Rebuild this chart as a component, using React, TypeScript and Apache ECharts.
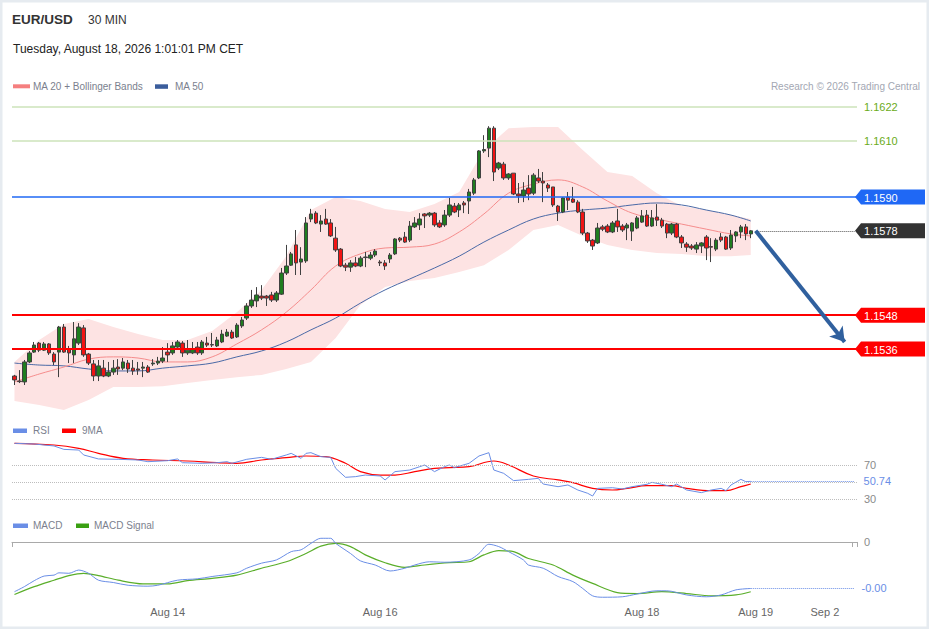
import React, { useEffect, useRef } from "react";
import * as echarts from "echarts";

const FONT = '"Liberation Sans", Arial, Helvetica, sans-serif';

// ---- X axis categories (30-min slots, plus empty future slots) ----
const N_CATS = 171;
const xTickLabels: [number, string][] = [
  [31, "Aug 14"],
  [74, "Aug 16"],
  [127, "Aug 18"],
  [150, "Aug 19"],
  [164, "Sep 2"],
];
const categories: string[] = Array.from({ length: N_CATS }, (_, i) => {
  const f = xTickLabels.find((l) => l[0] === i);
  return f ? f[1] : "";
});

// ---- Candles: [open, close, low, high] ----
const candles: number[][] = [
  [1.15264, 1.1525, 1.15232, 1.15268], [1.15246, 1.15244, 1.15239, 1.15285], [1.15243, 1.15314, 1.15232, 1.15321],
  [1.15314, 1.15346, 1.1531, 1.15353], [1.15349, 1.15374, 1.15346, 1.15385], [1.15381, 1.15356, 1.15349, 1.15385],
  [1.15356, 1.15378, 1.15353, 1.15385], [1.15378, 1.15346, 1.15339, 1.15381], [1.15342, 1.15314, 1.15303, 1.15349],
  [1.15349, 1.15438, 1.1526, 1.15442], [1.15438, 1.15349, 1.15346, 1.15449], [1.1536, 1.15346, 1.1531, 1.15371],
  [1.15339, 1.15396, 1.1531, 1.15456], [1.15381, 1.15438, 1.15374, 1.15452], [1.15435, 1.15339, 1.15332, 1.15445],
  [1.15342, 1.1531, 1.15303, 1.15346], [1.15307, 1.15264, 1.15246, 1.15321], [1.15264, 1.153, 1.15246, 1.15321],
  [1.15292, 1.15264, 1.1526, 1.15321], [1.15264, 1.15278, 1.1526, 1.15314], [1.15278, 1.15292, 1.15268, 1.15321],
  [1.15296, 1.15289, 1.15268, 1.15324], [1.15292, 1.15314, 1.15285, 1.15328], [1.1531, 1.15289, 1.15275, 1.15321],
  [1.15292, 1.15282, 1.15268, 1.15321], [1.15289, 1.15285, 1.15268, 1.15314], [1.15292, 1.15296, 1.1526, 1.15314],
  [1.15296, 1.15278, 1.15275, 1.15303], [1.15307, 1.1531, 1.153, 1.15324], [1.1531, 1.15317, 1.15303, 1.15332],
  [1.15317, 1.15328, 1.1531, 1.15367], [1.15349, 1.15339, 1.15314, 1.15381], [1.15346, 1.15371, 1.15339, 1.15385],
  [1.15367, 1.15385, 1.15364, 1.15392], [1.15381, 1.15346, 1.15332, 1.15388], [1.15346, 1.15356, 1.15339, 1.15392],
  [1.15346, 1.1536, 1.15342, 1.15385], [1.15367, 1.15346, 1.15339, 1.15385], [1.15346, 1.15385, 1.15339, 1.15392],
  [1.15381, 1.15374, 1.15367, 1.15403], [1.15376, 1.15374, 1.15367, 1.15417], [1.15371, 1.15392, 1.15367, 1.15403],
  [1.15385, 1.15413, 1.15381, 1.15428], [1.15406, 1.1542, 1.15403, 1.15431], [1.1542, 1.15399, 1.15396, 1.15428],
  [1.15403, 1.15445, 1.15399, 1.15452], [1.15442, 1.15463, 1.15435, 1.15474], [1.1547, 1.15513, 1.15463, 1.15523],
  [1.15513, 1.15534, 1.15506, 1.1557], [1.15531, 1.15552, 1.15509, 1.1558], [1.15548, 1.15541, 1.15534, 1.15587],
  [1.15548, 1.15541, 1.15513, 1.15552], [1.15552, 1.15534, 1.15527, 1.15563], [1.15534, 1.15559, 1.15527, 1.15566],
  [1.15555, 1.1563, 1.15552, 1.15648], [1.1563, 1.15655, 1.15623, 1.1573], [1.15658, 1.15698, 1.15655, 1.15705],
  [1.1573, 1.15666, 1.15623, 1.15783], [1.15669, 1.1568, 1.15623, 1.15722], [1.15673, 1.15808, 1.15666, 1.15829],
  [1.15822, 1.1584, 1.15811, 1.15858], [1.15843, 1.15808, 1.15804, 1.1585], [1.15804, 1.15815, 1.15776, 1.15836],
  [1.15822, 1.15804, 1.15801, 1.15858], [1.15808, 1.15762, 1.15758, 1.15822], [1.15754, 1.15712, 1.15705, 1.15794],
  [1.15715, 1.15655, 1.15651, 1.15719], [1.15658, 1.15651, 1.15637, 1.15666], [1.15651, 1.15666, 1.15634, 1.15676],
  [1.15666, 1.15655, 1.15651, 1.15687], [1.15655, 1.15683, 1.15651, 1.1569], [1.15685, 1.15687, 1.15651, 1.15705],
  [1.15683, 1.15694, 1.15676, 1.15705], [1.15694, 1.15708, 1.15687, 1.15715], [1.15669, 1.15666, 1.15655, 1.15676],
  [1.15666, 1.15655, 1.15641, 1.15676], [1.1568, 1.15694, 1.15666, 1.15701], [1.15698, 1.15751, 1.15694, 1.15754],
  [1.15754, 1.15747, 1.1574, 1.15758], [1.15758, 1.1574, 1.15737, 1.15776], [1.15747, 1.15797, 1.1574, 1.15815],
  [1.15794, 1.15808, 1.1579, 1.15829], [1.15801, 1.15822, 1.15783, 1.15843], [1.1584, 1.15833, 1.1579, 1.15843],
  [1.15836, 1.15843, 1.15829, 1.15847], [1.15843, 1.15801, 1.15794, 1.15847], [1.15808, 1.15794, 1.1579, 1.15818],
  [1.15801, 1.15836, 1.15794, 1.15854], [1.15836, 1.15872, 1.15829, 1.15897], [1.15868, 1.15847, 1.15843, 1.15879],
  [1.15854, 1.15872, 1.15829, 1.15879], [1.15879, 1.15872, 1.15843, 1.15886], [1.15886, 1.15918, 1.1584, 1.15929],
  [1.15914, 1.15961, 1.15907, 1.15968], [1.15968, 1.16064, 1.15964, 1.16067], [1.16064, 1.16069, 1.16057, 1.1612],
  [1.16074, 1.16145, 1.16042, 1.16152], [1.16145, 1.15989, 1.15957, 1.16152], [1.16003, 1.16021, 1.15996, 1.16025],
  [1.16017, 1.15968, 1.15961, 1.16025], [1.15968, 1.15982, 1.15961, 1.15985], [1.15985, 1.15911, 1.15907, 1.15985],
  [1.15911, 1.15904, 1.15879, 1.1595], [1.15904, 1.15925, 1.15882, 1.15953], [1.15932, 1.15911, 1.15889, 1.15978],
  [1.15914, 1.15978, 1.15907, 1.15985], [1.15968, 1.15957, 1.1595, 1.16], [1.15957, 1.1595, 1.15882, 1.15989],
  [1.15943, 1.15932, 1.15918, 1.1595], [1.15936, 1.15872, 1.15865, 1.15936], [1.15868, 1.15847, 1.15815, 1.15872],
  [1.15847, 1.15897, 1.15843, 1.159], [1.159, 1.15889, 1.15854, 1.15918], [1.15893, 1.15882, 1.15879, 1.15936],
  [1.15882, 1.15847, 1.15843, 1.15889], [1.15847, 1.15772, 1.15765, 1.15858], [1.15772, 1.15744, 1.15737, 1.15776],
  [1.15747, 1.15726, 1.15712, 1.15751], [1.15737, 1.1579, 1.15733, 1.15808], [1.15794, 1.15786, 1.15779, 1.15801],
  [1.15797, 1.15776, 1.15772, 1.15804], [1.15776, 1.15808, 1.15772, 1.15815], [1.15815, 1.15794, 1.15776, 1.15858],
  [1.15797, 1.15783, 1.15776, 1.15804], [1.1579, 1.15801, 1.15747, 1.15808], [1.15779, 1.15808, 1.15744, 1.15811],
  [1.1579, 1.15826, 1.15786, 1.15833], [1.15811, 1.15833, 1.15808, 1.15854], [1.15836, 1.15797, 1.15794, 1.15854],
  [1.15797, 1.15826, 1.15794, 1.15854], [1.15829, 1.15818, 1.15797, 1.15875], [1.15818, 1.15797, 1.1579, 1.15826],
  [1.15804, 1.15772, 1.15754, 1.15808], [1.15772, 1.15804, 1.15765, 1.15808], [1.15804, 1.15758, 1.15754, 1.15808],
  [1.15758, 1.15737, 1.15719, 1.15765], [1.15733, 1.15722, 1.15705, 1.1574], [1.15726, 1.15719, 1.15712, 1.15733],
  [1.15715, 1.1573, 1.15701, 1.1574], [1.15726, 1.15737, 1.15701, 1.1574], [1.15758, 1.15719, 1.15676, 1.15765],
  [1.15724, 1.15722, 1.15669, 1.15754], [1.15715, 1.15747, 1.15708, 1.15754], [1.15758, 1.15747, 1.1574, 1.15772],
  [1.15758, 1.15715, 1.15712, 1.15762], [1.15719, 1.15765, 1.15712, 1.15783], [1.15762, 1.15776, 1.1574, 1.15779],
  [1.15776, 1.15794, 1.15754, 1.15801], [1.15794, 1.15769, 1.15747, 1.15804], [1.15769, 1.1578, 1.15754, 1.15783],
];

// ---- Overlays (read at sampled candle indices) ----
const bandIdx = [0, 5, 10, 15, 20, 25, 30, 35, 40, 45, 50, 55, 60, 65, 70, 75, 80, 85, 90, 95, 100, 105, 110, 115, 120, 125, 130, 135, 140, 145, 149];
const bandUpper = [1.15314, 1.15392, 1.15449, 1.15467, 1.15438, 1.15413, 1.15392, 1.15392, 1.15424, 1.15491, 1.1557, 1.1569, 1.15854, 1.159, 1.15886, 1.15858, 1.15847, 1.15875, 1.15918, 1.16067, 1.16145, 1.16149, 1.16149, 1.16067, 1.15989, 1.15975, 1.15914, 1.15868, 1.15854, 1.15836, 1.15822];
const bandLower = [1.15175, 1.15161, 1.15143, 1.15179, 1.15225, 1.15225, 1.15228, 1.15239, 1.1525, 1.1526, 1.15268, 1.15289, 1.15314, 1.15399, 1.15516, 1.1558, 1.15602, 1.15612, 1.15634, 1.15658, 1.15712, 1.15783, 1.15801, 1.15762, 1.1573, 1.15712, 1.15701, 1.15698, 1.1569, 1.1569, 1.15694];
const ma20 = [1.15243, 1.15271, 1.15296, 1.15324, 1.15332, 1.15328, 1.15314, 1.15314, 1.15332, 1.15378, 1.15428, 1.15491, 1.1557, 1.15655, 1.15698, 1.15719, 1.15722, 1.15733, 1.15776, 1.1584, 1.15914, 1.15946, 1.15961, 1.15936, 1.15886, 1.15843, 1.15822, 1.15804, 1.15786, 1.15769, 1.15762];
const ma50 = [1.1531, 1.15303, 1.153, 1.15289, 1.15282, 1.15282, 1.15292, 1.153, 1.1531, 1.15332, 1.15353, 1.15385, 1.15428, 1.1547, 1.15523, 1.1557, 1.15609, 1.15648, 1.1569, 1.1574, 1.15783, 1.15822, 1.15843, 1.15854, 1.15861, 1.15872, 1.15879, 1.15872, 1.15854, 1.15836, 1.15815];

// ---- Price levels ----
const resistanceLevels = [1.1622, 1.161];
const pivotLevel = 1.159;
const lastPrice = 1.1578;
const supportLevels = [1.1548, 1.1536];
const arrowEnd: [number, number] = [168, 1.15385];

// ---- RSI ----
const rsiIdx = [0, 4, 8, 10, 13, 14, 17, 21, 25, 27, 31, 33, 34, 38, 41, 43, 44, 47, 50, 52, 55, 56, 58, 59, 60, 62, 64, 65, 67, 69, 71, 74, 75, 77, 80, 82, 83, 85, 87, 88, 89, 92, 94, 96, 97, 99, 101, 104, 106, 107, 110, 112, 114, 116, 117, 118, 121, 123, 125, 128, 129, 131, 133, 134, 136, 139, 141, 143, 144, 145, 147, 148, 149];
const rsiVal = [95.5, 94.7, 92.4, 88.4, 87.6, 81.8, 77.1, 76.7, 75.9, 73.9, 75.1, 77.1, 72.7, 72.0, 72.7, 73.9, 72.0, 76.7, 79.0, 76.7, 81.8, 83.7, 77.8, 83.7, 84.5, 79.8, 79.0, 66.1, 55.5, 56.3, 58.2, 57.1, 52.4, 62.2, 64.1, 68.0, 70.0, 62.2, 68.0, 70.0, 66.9, 72.0, 80.6, 84.5, 64.1, 60.2, 51.6, 53.1, 54.3, 47.6, 44.5, 46.5, 40.6, 36.7, 33.5, 42.5, 43.3, 41.8, 44.5, 47.3, 49.6, 47.3, 44.5, 47.6, 40.6, 37.5, 40.6, 42.5, 39.8, 46.5, 53.1, 50.4, 50.74];
const rsiMaIdx = [0, 8, 13, 17, 22, 28, 35, 41, 45, 50, 55, 59, 63, 67, 70, 74, 77, 81, 85, 88, 92, 97, 100, 105, 110, 113, 117, 121, 124, 128, 133, 136, 141, 144, 147, 149];
const rsiMaVal = [95.5, 93.5, 89.6, 83.7, 77.8, 75.9, 74.7, 72.7, 72.0, 75.9, 78.6, 80.6, 79.8, 72.0, 62.2, 58.2, 58.2, 62.2, 66.1, 66.9, 68.0, 74.7, 70.0, 57.1, 52.4, 49.2, 42.5, 40.6, 42.5, 45.7, 45.7, 42.5, 39.8, 39.8, 44.5, 47.6];
const rsiLevels = [70, 50, 30];

// ---- MACD ----
const macdIdx = [0, 2, 4, 6, 8, 9, 11, 13, 15, 17, 20, 23, 27, 29, 33, 37, 40, 45, 47, 50, 53, 56, 58, 60, 62, 64, 65, 68, 70, 73, 76, 79, 81, 84, 87, 92, 94, 96, 98, 100, 103, 104, 107, 110, 113, 115, 117, 119, 123, 126, 130, 132, 136, 140, 143, 146, 149];
const macdVal = [-0.00108, -0.00097, -0.00084, -0.00074, -0.00072, -0.00067, -0.00068, -0.00061, -0.00068, -0.00083, -0.00088, -0.00094, -0.00096, -0.00094, -0.00083, -0.0008, -0.00075, -0.00067, -0.00057, -0.00046, -0.00039, -0.00021, -0.00017, -0.00003, 0.00008, 0.00008, -0.00003, -0.00025, -0.00041, -0.0005, -0.00063, -0.00057, -0.0005, -0.00043, -0.00044, -0.00039, -0.00025, -0.00005, -0.0001, -0.00021, -0.00039, -0.0005, -0.00057, -0.00075, -0.00086, -0.00101, -0.00117, -0.0012, -0.00119, -0.00113, -0.00106, -0.00106, -0.00115, -0.00119, -0.00115, -0.00104, -0.00101];
const sigIdx = [0, 4, 8, 11, 14, 17, 21, 26, 31, 35, 40, 45, 50, 55, 59, 62, 65, 68, 71, 75, 79, 83, 88, 92, 95, 98, 101, 104, 109, 113, 117, 122, 126, 131, 136, 141, 146, 149];
const sigVal = [-0.00114, -0.00097, -0.00083, -0.00073, -0.00068, -0.00073, -0.00083, -0.00091, -0.00091, -0.00084, -0.00079, -0.00072, -0.00057, -0.00043, -0.00025, -0.00009, -0.00003, -0.0001, -0.00028, -0.00045, -0.00055, -0.0005, -0.00045, -0.00043, -0.00028, -0.00019, -0.00021, -0.00036, -0.0005, -0.00072, -0.0009, -0.0011, -0.00112, -0.00108, -0.00112, -0.00117, -0.00115, -0.00108];

const C_RSI = "#6a8ee6";
const C_RED = "#ff0000";
const C_BLUE_LVL = "#1f68f5";
const C_GREEN_LVL = "#6aab19";
const LAST = candles.length - 1;
const END = N_CATS - 1;

const pairs = (idx: number[], val: number[]) => idx.map((x, k) => [x, val[k]]);

function buildOption(): any {
  const lbl = { fontFamily: FONT, fontSize: 11 };
  return {
    animation: false,
    backgroundColor: "#ffffff",
    grid: [
      { left: 12, right: 72, top: 98.6, height: 312.3, containLabel: false },
      { left: 12, right: 72, top: 439.5, height: 68, containLabel: false },
      { left: 12, right: 72, top: 530, height: 70, containLabel: false },
    ],
    xAxis: [0, 1, 2].map((g) => ({
      type: "category",
      gridIndex: g,
      data: categories,
      boundaryGap: true,
      show: g === 2,
      axisLine: { show: g === 2, lineStyle: { color: "#a9a9a9", width: 1 } },
      axisTick: {
        show: g === 2,
        interval: (i: number) => i === 0 || i === END,
        length: 5,
        lineStyle: { color: "#a9a9a9" },
      },
      axisLabel: { show: g === 2, interval: 0, color: "#666666", fontSize: 11, fontFamily: FONT, margin: 6 },
      splitLine: { show: false },
    })),
    yAxis: [
      { type: "value", gridIndex: 0, min: 1.1514, max: 1.1625, show: false },
      { type: "value", gridIndex: 1, min: 20, max: 100, show: false },
      { type: "value", gridIndex: 2, min: -0.00126, max: 0.00026, show: false },
    ],
    series: [
      {
        type: "custom",
        name: "band",
        xAxisIndex: 0,
        yAxisIndex: 0,
        z: 1,
        silent: true,
        data: [[0, bandLower[0]]],
        renderItem: (_p: any, api: any) => {
          const pts: number[][] = [];
          bandIdx.forEach((ix, k) => pts.push(api.coord([ix, bandUpper[k]])));
          for (let k = bandIdx.length - 1; k >= 0; k--) pts.push(api.coord([bandIdx[k], bandLower[k]]));
          return { type: "polygon", shape: { points: pts }, style: { fill: "#fde3e3" } };
        },
      },
      {
        type: "line",
        name: "MA 50",
        xAxisIndex: 0,
        yAxisIndex: 0,
        z: 2,
        silent: true,
        data: pairs(bandIdx, ma50),
        smooth: 0.4,
        symbol: "none",
        lineStyle: { color: "#4a69a6", width: 1 },
        markLine: {
          silent: true,
          symbol: "none",
          precision: 6,
          label: { show: false },
          data: [
            ...resistanceLevels.map((v) => ({
              yAxis: v,
              lineStyle: { color: "#cde3ba", width: 1.5, type: "solid" },
              label: { show: true, position: "end", distance: 7, formatter: v.toFixed(4), color: C_GREEN_LVL, ...lbl },
            })),
            {
              yAxis: pivotLevel,
              lineStyle: { color: C_BLUE_LVL, width: 1.5, type: "solid", opacity: 1 },
              itemStyle: { color: C_BLUE_LVL },
            },
            ...supportLevels.map((v) => ({ yAxis: v, lineStyle: { color: C_RED, width: 2, type: "solid" } })),
          ],
        },
      },
      {
        type: "line",
        name: "MA 20",
        xAxisIndex: 0,
        yAxisIndex: 0,
        z: 2,
        silent: true,
        data: pairs(bandIdx, ma20),
        smooth: 0.4,
        symbol: "none",
        lineStyle: { color: "#f58c8c", width: 1 },
      },
      {
        type: "candlestick",
        name: "EUR/USD",
        xAxisIndex: 0,
        yAxisIndex: 0,
        z: 3,
        silent: true,
        barWidth: 4,
        data: candles,
        itemStyle: {
          color: "#1f7d1f",
          color0: "#f01414",
          borderColor: "#404040",
          borderColor0: "#404040",
          borderWidth: 1,
        },
        markLine: {
          silent: true,
          symbol: "none",
          precision: 6,
          label: { show: false },
          data: [
            [
              { coord: [LAST + 1, lastPrice], symbol: "none" },
              { coord: [END, lastPrice], symbol: "none", lineStyle: { color: "#555555", type: "dotted", width: 1 } },
            ],
            [
              { coord: [LAST + 1, lastPrice], symbol: "none" },
              {
                coord: arrowEnd,
                symbol: "arrow",
                symbolSize: [13, 14],
                lineStyle: { color: "#30609e", width: 4, type: "solid" },
                itemStyle: { color: "#30609e" },
              },
            ],
          ],
        },
      },
      {
        type: "line",
        name: "RSI",
        xAxisIndex: 1,
        yAxisIndex: 1,
        z: 3,
        silent: true,
        data: pairs(rsiIdx, rsiVal),
        symbol: "none",
        lineStyle: { color: C_RSI, width: 1 },
        markLine: {
          silent: true,
          symbol: "none",
          precision: 6,
          label: { show: false },
          data: [
            ...rsiLevels.map((v) => ({
              yAxis: v,
              lineStyle: { color: "#bdbdbd", type: "dotted", width: 1 },
              label: { show: v !== 50, position: "end", distance: 7, formatter: String(v), color: "#8a8a8a", ...lbl },
            })),
            [
              { coord: [LAST, rsiVal[rsiVal.length - 1]] },
              {
                coord: [END, rsiVal[rsiVal.length - 1]],
                lineStyle: { color: C_RSI, type: "dotted", width: 1 },
                label: { show: true, position: "end", distance: 9, formatter: rsiVal[rsiVal.length - 1].toFixed(2), color: C_RSI, ...lbl },
              },
            ],
          ],
        },
      },
      {
        type: "line",
        name: "9MA",
        xAxisIndex: 1,
        yAxisIndex: 1,
        z: 2,
        silent: true,
        data: pairs(rsiMaIdx, rsiMaVal),
        smooth: 0.4,
        symbol: "none",
        lineStyle: { color: C_RED, width: 1.2 },
      },
      {
        type: "line",
        name: "MACD",
        xAxisIndex: 2,
        yAxisIndex: 2,
        z: 3,
        silent: true,
        data: pairs(macdIdx, macdVal),
        smooth: 0.3,
        symbol: "none",
        lineStyle: { color: C_RSI, width: 1 },
        markLine: {
          silent: true,
          symbol: "none",
          precision: 8,
          label: { show: false },
          data: [
            {
              yAxis: 0,
              lineStyle: { color: "rgba(0,0,0,0)", width: 0 },
              label: { show: true, position: "end", distance: 7, formatter: "0", color: "#8a8a8a", ...lbl },
            },
            [
              { coord: [LAST, macdVal[macdVal.length - 1]] },
              {
                coord: [END, macdVal[macdVal.length - 1]],
                lineStyle: { color: C_RSI, type: "dotted", width: 1 },
                label: { show: true, position: "end", distance: 7, formatter: macdVal[macdVal.length - 1].toFixed(2), color: C_RSI, ...lbl },
              },
            ],
          ],
        },
      },
      {
        type: "line",
        name: "MACD Signal",
        xAxisIndex: 2,
        yAxisIndex: 2,
        z: 2,
        silent: true,
        data: pairs(sigIdx, sigVal),
        smooth: 0.3,
        symbol: "none",
        lineStyle: { color: "#5aae2a", width: 1.2 },
      },
    ],
  };
}

function txt(text: string, x: number, y: number, size: number, fill: string, opts: any = {}) {
  const align = opts.align || "left";
  return {
    type: "text",
    silent: true,
    z: 50,
    style: {
      text,
      x,
      y,
      fill,
      font: `${opts.weight || "normal"} ${size}px ${FONT}`,
      textAlign: align,
      align,
      textVerticalAlign: "middle",
      verticalAlign: "middle",
    },
  };
}

function rect(x: number, y: number, w: number, h: number, fill: string) {
  return { type: "rect", silent: true, z: 50, shape: { x, y, width: w, height: h }, style: { fill } };
}

export default function App() {
  const ref = useRef<HTMLDivElement>(null);
  useEffect(() => {
    document.body.style.margin = "0";
    if (!ref.current) return;
    const chart = echarts.init(ref.current, null, { renderer: "svg" });
    chart.setOption(buildOption());

    const tipX = (chart.convertToPixel({ xAxisIndex: 0 }, END) as number) + 0.5;
    const tags = [
      { v: pivotLevel, color: C_BLUE_LVL },
      { v: lastPrice, color: "#333333" },
      ...supportLevels.map((v) => ({ v, color: "#ff0000" })),
    ];
    const tagEls: any[] = [];
    tags.forEach((t) => {
      const y = chart.convertToPixel({ yAxisIndex: 0 }, t.v) as number;
      tagEls.push({
        type: "polygon",
        silent: true,
        z: 40,
        shape: { points: [[tipX, y], [tipX + 6, y - 7.5], [925, y - 7.5], [925, y + 7.5], [tipX + 6, y + 7.5]] },
        style: { fill: t.color },
      });
      tagEls.push(txt(t.v.toFixed(4), tipX + 9, y + 0.5, 11, "#ffffff"));
    });

    chart.setOption({
      graphic: [
        {
          type: "rect",
          silent: true,
          z: 60,
          shape: { x: 1.25, y: 1.25, width: 926.5, height: 626.5 },
          style: { fill: "none", stroke: "#e6ebf0", lineWidth: 2.5 },
        },
        txt("EUR/USD", 12, 19.5, 13.5, "#333333", { weight: "bold" }),
        txt("30 MIN", 88, 19.5, 12, "#333333"),
        txt("Tuesday, August 18, 2026 1:01:01 PM CET", 13, 48.5, 12, "#222222"),
        rect(13, 84.3, 17, 4, "#f57f7f"),
        txt("MA 20 + Bollinger Bands", 33, 86.5, 10, "#7b7f8e"),
        rect(155, 84.3, 13, 4.5, "#3b5d9c"),
        txt("MA 50", 175, 86.5, 10, "#7b7f8e"),
        txt("Research \u00a9 2026 Trading Central", 920, 86.5, 10, "#a3a7b3", { align: "right" }),
        rect(13, 428.5, 14, 4.5, C_RSI),
        txt("RSI", 33, 430.5, 10, "#7b7f8e"),
        rect(62, 428.5, 14, 4.5, C_RED),
        txt("9MA", 82, 430.5, 10, "#7b7f8e"),
        rect(13, 523.5, 15, 4.5, C_RSI),
        txt("MACD", 33, 525.5, 10, "#7b7f8e"),
        rect(76, 523.5, 13, 4.5, "#3aa012"),
        txt("MACD Signal", 94, 525.5, 10, "#7b7f8e"),
        ...tagEls,
      ],
    });

    return () => chart.dispose();
  }, []);
  return <div ref={ref} style={{ width: 929, height: 629 }} />;
}
